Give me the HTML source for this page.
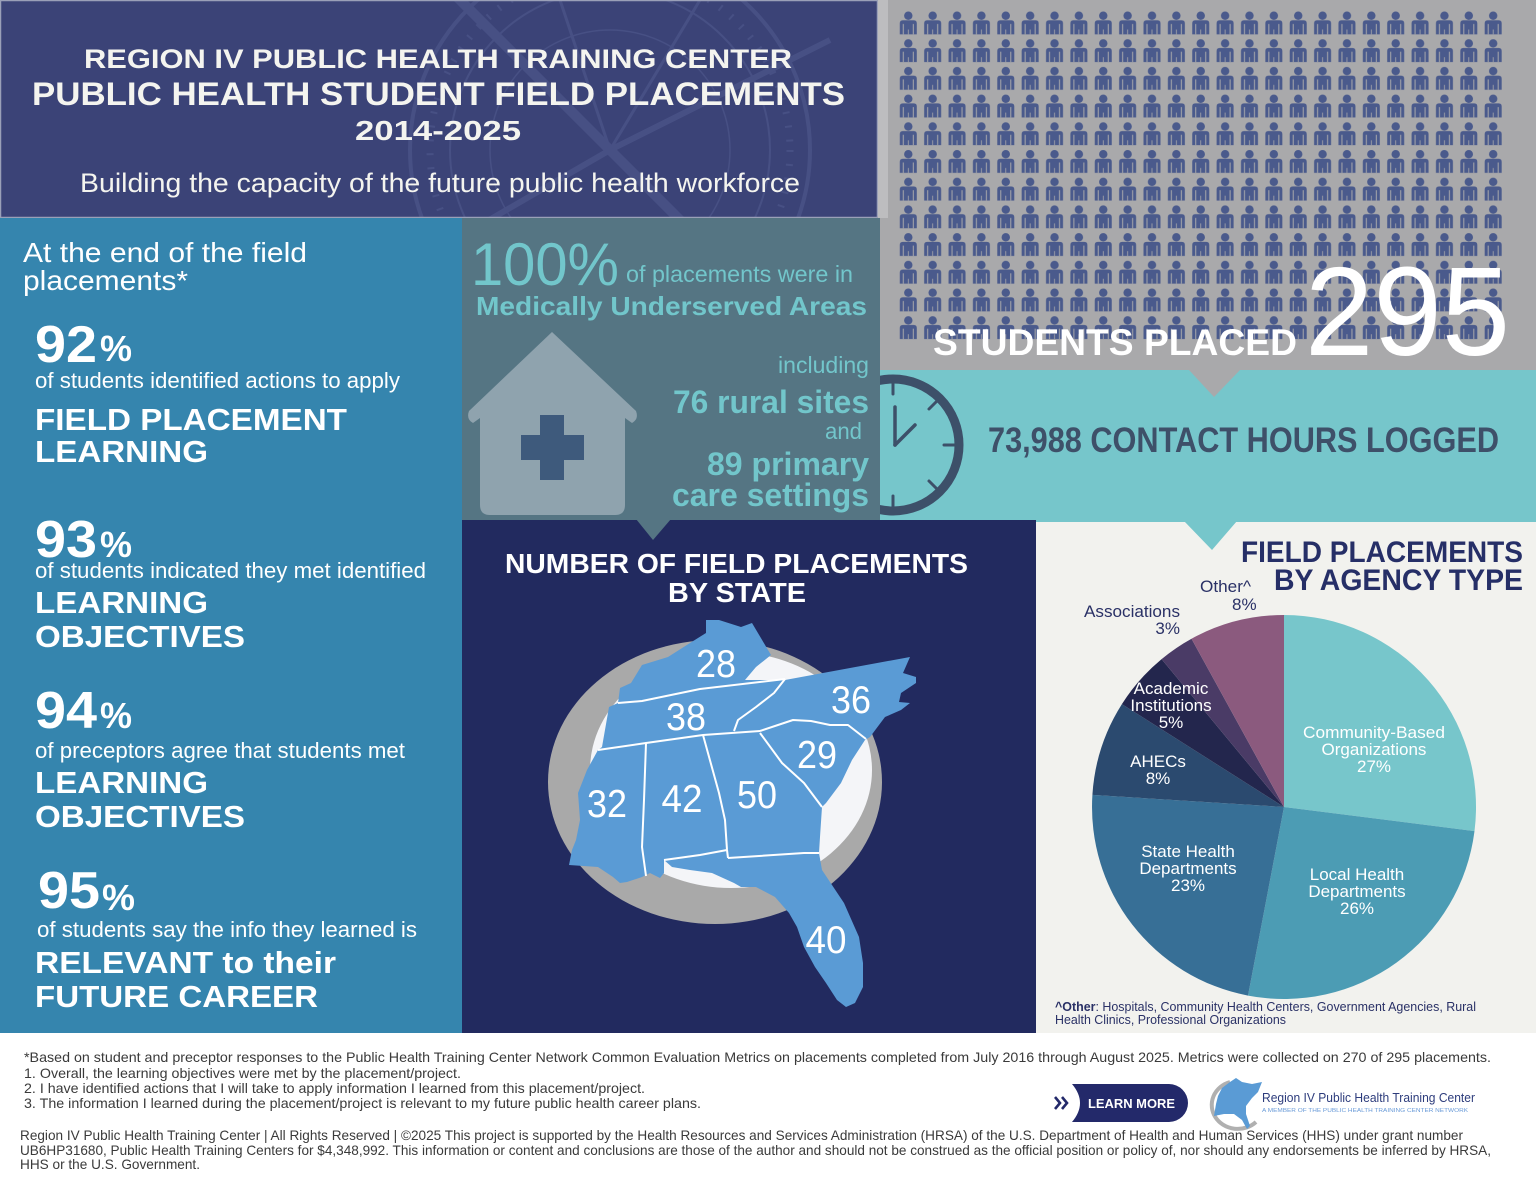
<!DOCTYPE html>
<html><head><meta charset="utf-8"><style>
html,body{margin:0;padding:0;background:#fff;}
svg{display:block;}
text{font-family:"Liberation Sans",Arial,sans-serif;}
</style></head><body>
<svg width="1536" height="1187" viewBox="0 0 1536 1187" xmlns="http://www.w3.org/2000/svg">
<defs>
<pattern id="ppl" patternUnits="userSpaceOnUse" x="896.1" y="10" width="24.37" height="27.7">
<circle cx="12.2" cy="5.7" r="4.2" fill="#4a5a8c"/>
<path d="M3.7,24.3 L3.7,13.3 Q3.7,10.3 6.7,10.3 L17.7,10.3 Q20.7,10.3 20.7,13.3 L20.7,24.3 Z" fill="#4a5a8c"/>
<line x1="7.2" y1="14" x2="7.2" y2="24.3" stroke="#a9a9ab" stroke-width="1"/>
<line x1="17.2" y1="14" x2="17.2" y2="24.3" stroke="#a9a9ab" stroke-width="1"/>
<line x1="12.2" y1="19.5" x2="12.2" y2="24.3" stroke="#a9a9ab" stroke-width="0.8"/>
</pattern>
<clipPath id="hdr"><rect x="0" y="0" width="878" height="218"/></clipPath>
</defs>

<!-- background -->
<rect x="0" y="0" width="1536" height="1187" fill="#ffffff"/>

<!-- HEADER -->
<rect x="0" y="0" width="878" height="218" fill="#3b4377"/>
<g clip-path="url(#hdr)" fill="none" stroke="#525b90" opacity="0.55">
<circle cx="610" cy="150" r="200" stroke-width="4"/>
<circle cx="610" cy="150" r="180" stroke-width="7" stroke-dasharray="2 12"/>
<circle cx="610" cy="150" r="160" stroke-width="2"/>
<circle cx="610" cy="150" r="120" stroke-width="1.5"/>
<path d="M450,-10 L610,150 L780,320" stroke-width="10"/>
<path d="M830,40 L610,150 L420,260" stroke-width="6"/>
<path d="M610,150 L560,0 M610,150 L700,0" stroke-width="3"/>
</g>
<rect x="0.5" y="0.5" width="877" height="217" fill="none" stroke="#9aa0b8" stroke-width="1.5"/>
<text x="84" y="68" font-size="27" font-weight="bold" fill="#f4f4ef" textLength="708" lengthAdjust="spacingAndGlyphs">REGION IV PUBLIC HEALTH TRAINING CENTER</text>
<text x="32" y="105" font-size="32" font-weight="bold" fill="#f4f4ef" textLength="813" lengthAdjust="spacingAndGlyphs">PUBLIC HEALTH STUDENT FIELD PLACEMENTS</text>
<text x="355" y="140" font-size="28" font-weight="bold" fill="#f4f4ef" textLength="166" lengthAdjust="spacingAndGlyphs">2014-2025</text>
<text x="80" y="192" font-size="27" fill="#f4f4ef" textLength="720" lengthAdjust="spacingAndGlyphs">Building the capacity of the future public health workforce</text>

<!-- PEOPLE PANEL -->
<rect x="878" y="0" width="658" height="372" fill="#a9a9ab"/>
<rect x="878" y="0" width="10" height="218" fill="#bdbdbf"/>
<rect x="896" y="10" width="609.3" height="332.4" fill="url(#ppl)"/>
<text x="933" y="355" font-size="37" font-weight="bold" fill="#ffffff" textLength="364" lengthAdjust="spacingAndGlyphs">STUDENTS PLACED</text>
<text x="1305" y="355" font-size="126" fill="#ffffff" textLength="205" lengthAdjust="spacingAndGlyphs">295</text>

<!-- TEAL BAND -->
<rect x="878" y="370" width="658" height="152" fill="#76c6cb"/>
<polygon points="1189,370 1240,370 1214,397" fill="#a9a9ab"/>
<!-- clock -->
<g stroke="#3d5069" fill="none" stroke-linecap="round">
<circle cx="893" cy="445" r="66" stroke-width="9"/>
<line x1="893" y1="383" x2="893" y2="394" stroke-width="3"/>
<line x1="893" y1="496" x2="893" y2="507" stroke-width="3"/>
<line x1="944" y1="445" x2="955" y2="445" stroke-width="3"/>
<line x1="929" y1="409" x2="937" y2="401" stroke-width="3"/>
<line x1="929" y1="481" x2="937" y2="489" stroke-width="3"/>
<line x1="895" y1="407" x2="895" y2="445" stroke-width="3.5"/>
<line x1="895" y1="445" x2="915" y2="425" stroke-width="3.5"/>
</g>
<text x="988" y="452" font-size="35" font-weight="bold" fill="#3e5069" textLength="511" lengthAdjust="spacingAndGlyphs">73,988 CONTACT HOURS LOGGED</text>

<!-- LEFT PANEL -->
<rect x="0" y="218" width="462" height="815" fill="#3585ae"/>
<g fill="#ffffff">
<text x="23" y="262" font-size="28" textLength="284" lengthAdjust="spacingAndGlyphs">At the end of the field</text>
<text x="23" y="290" font-size="28" textLength="165" lengthAdjust="spacingAndGlyphs">placements*</text>

<text x="35" y="362" font-size="52" font-weight="bold" textLength="62" lengthAdjust="spacingAndGlyphs">92</text>
<text x="100" y="361" font-size="36" font-weight="bold" textLength="32" lengthAdjust="spacingAndGlyphs">%</text>
<text x="35" y="388" font-size="22" textLength="365" lengthAdjust="spacingAndGlyphs">of students identified actions to apply</text>
<text x="35" y="430" font-size="31" font-weight="bold" textLength="312" lengthAdjust="spacingAndGlyphs">FIELD PLACEMENT</text>
<text x="35" y="462" font-size="31" font-weight="bold" textLength="173" lengthAdjust="spacingAndGlyphs">LEARNING</text>

<text x="35" y="557" font-size="52" font-weight="bold" textLength="62" lengthAdjust="spacingAndGlyphs">93</text>
<text x="100" y="557" font-size="36" font-weight="bold" textLength="32" lengthAdjust="spacingAndGlyphs">%</text>
<text x="35" y="578" font-size="22" textLength="391" lengthAdjust="spacingAndGlyphs">of students indicated they met identified</text>
<text x="35" y="613" font-size="31" font-weight="bold" textLength="173" lengthAdjust="spacingAndGlyphs">LEARNING</text>
<text x="35" y="647" font-size="31" font-weight="bold" textLength="210" lengthAdjust="spacingAndGlyphs">OBJECTIVES</text>

<text x="35" y="728" font-size="52" font-weight="bold" textLength="62" lengthAdjust="spacingAndGlyphs">94</text>
<text x="100" y="728" font-size="36" font-weight="bold" textLength="32" lengthAdjust="spacingAndGlyphs">%</text>
<text x="35" y="758" font-size="22" textLength="370" lengthAdjust="spacingAndGlyphs">of preceptors agree that students met</text>
<text x="35" y="793" font-size="31" font-weight="bold" textLength="173" lengthAdjust="spacingAndGlyphs">LEARNING</text>
<text x="35" y="827" font-size="31" font-weight="bold" textLength="210" lengthAdjust="spacingAndGlyphs">OBJECTIVES</text>

<text x="38" y="908" font-size="52" font-weight="bold" textLength="62" lengthAdjust="spacingAndGlyphs">95</text>
<text x="102" y="910" font-size="36" font-weight="bold" textLength="33" lengthAdjust="spacingAndGlyphs">%</text>
<text x="37" y="937" font-size="22" textLength="380" lengthAdjust="spacingAndGlyphs">of students say the info they learned is</text>
<text x="35" y="973" font-size="31" font-weight="bold" textLength="301" lengthAdjust="spacingAndGlyphs">RELEVANT to their</text>
<text x="35" y="1007" font-size="31" font-weight="bold" textLength="283" lengthAdjust="spacingAndGlyphs">FUTURE CAREER</text>
</g>

<!-- MAP PANEL -->
<rect x="462" y="520" width="574" height="513" fill="#222a5f"/>
<text x="505" y="573" font-size="28" font-weight="bold" fill="#ffffff" textLength="463" lengthAdjust="spacingAndGlyphs">NUMBER OF FIELD PLACEMENTS</text>
<text x="668" y="602" font-size="28" font-weight="bold" fill="#ffffff" textLength="138" lengthAdjust="spacingAndGlyphs">BY STATE</text>
<ellipse cx="715" cy="782" rx="167" ry="142" fill="#a9a9a9"/>
<ellipse cx="731" cy="770" rx="141" ry="118" fill="#f4f5f8"/>
<polygon fill="#5a9bd5" points="618,703 620,688 631,683 642,665 668,657 690,643 706,633 706,620 719,620 741,627 752,623 771,655 756,667 745,680 785,680 910,657 903,673 916,677 916,683 901,693 899,702 910,703 901,710 885,717 870,737 865,740 852,760 841,783 826,803 822,807 820,837 819,853 822,870 844,903 859,937 863,963 863,987 855,1003 846,1007 837,1000 826,983 815,967 804,947 797,927 789,913 775,897 756,887 741,887 734,883 712,873 690,870 672,867 664,860 664,873 660,878 650,873 642,877 627,882 620,883 613,877 598,867 569,865 572,850 576,840 580,820 578,793 587,770 598,750 602,747 609,707"/>
<g fill="none" stroke="#ffffff" stroke-width="2" stroke-linejoin="round">
<polyline points="618,703 642,701 700,689 785,679"/>
<polyline points="785,679 774,693 756,707 738,720 734,731"/>
<polyline points="598,750 646,743 703,735 760,731"/>
<polyline points="760,731 793,720 811,721 830,725 848,725 866,739"/>
<polyline points="760,733 782,763 804,783 822,807"/>
<polyline points="646,743 644,800 642,847 646,876"/>
<polyline points="703,735 719,793 725,820 727,850 728,858"/>
<polyline points="664,860 700,855 727,850"/>
<polyline points="728,858 804,853 819,853"/>
</g>
<g fill="#ffffff" font-size="39" text-anchor="middle">
<text x="716" y="677" textLength="40" lengthAdjust="spacingAndGlyphs">28</text>
<text x="686" y="730" textLength="40" lengthAdjust="spacingAndGlyphs">38</text>
<text x="851" y="713" textLength="40" lengthAdjust="spacingAndGlyphs">36</text>
<text x="817" y="768" textLength="40" lengthAdjust="spacingAndGlyphs">29</text>
<text x="607" y="817" textLength="40" lengthAdjust="spacingAndGlyphs">32</text>
<text x="682" y="812" textLength="41" lengthAdjust="spacingAndGlyphs">42</text>
<text x="757" y="808" textLength="40" lengthAdjust="spacingAndGlyphs">50</text>
<text x="826" y="953" textLength="41" lengthAdjust="spacingAndGlyphs">40</text>
</g>

<!-- MIDDLE PANEL -->
<rect x="462" y="218" width="418" height="302" fill="#557583"/>
<polygon points="636,519 671,519 653,540" fill="#557583"/>
<text x="471" y="285" font-size="60" fill="#72c6cb" textLength="148" lengthAdjust="spacingAndGlyphs">100%</text>
<text x="626" y="282" font-size="23" fill="#72c6cb" textLength="227" lengthAdjust="spacingAndGlyphs">of placements were in</text>
<text x="476" y="315" font-size="26" font-weight="bold" fill="#72c6cb" textLength="391" lengthAdjust="spacingAndGlyphs">Medically Underserved Areas</text>
<path d="M552,332 L636,411 Q639,419 632,423 L625,418 L625,505 Q625,515 615,515 L490,515 Q480,515 480,505 L480,418 L473,423 Q466,419 469,411 Z" fill="#8fa3ae"/>
<rect x="540" y="415" width="24" height="65" fill="#3e5a7c"/>
<rect x="521" y="435" width="63" height="25" fill="#3e5a7c"/>
<g fill="#72c6cb" text-anchor="end">
<text x="869" y="373" font-size="23" textLength="91" lengthAdjust="spacingAndGlyphs">including</text>
<text x="869" y="413" font-size="32" font-weight="bold" textLength="196" lengthAdjust="spacingAndGlyphs">76 rural sites</text>
<text x="862" y="439" font-size="23" textLength="37" lengthAdjust="spacingAndGlyphs">and</text>
<text x="869" y="475" font-size="32" font-weight="bold" textLength="162" lengthAdjust="spacingAndGlyphs">89 primary</text>
<text x="869" y="506" font-size="32" font-weight="bold" textLength="197" lengthAdjust="spacingAndGlyphs">care settings</text>
</g>

<!-- PIE PANEL -->
<rect x="1036" y="522" width="500" height="511" fill="#f2f2ee"/>
<polygon points="1184,521 1237,521 1212,550" fill="#76c6cb"/>
<text x="1523" y="562" font-size="30" font-weight="bold" fill="#262f67" text-anchor="end" textLength="282" lengthAdjust="spacingAndGlyphs">FIELD PLACEMENTS</text>
<text x="1523" y="590" font-size="30" font-weight="bold" fill="#262f67" text-anchor="end" textLength="249" lengthAdjust="spacingAndGlyphs">BY AGENCY TYPE</text>
<path d="M1284,807 L1284,615 A192,192 0 0,1 1474.5,831.1 Z" fill="#77c6cb"/>
<path d="M1284,807 L1474.5,831.1 A192,192 0 0,1 1248,995.6 Z" fill="#4c9cb4"/>
<path d="M1284,807 L1248,995.6 A192,192 0 0,1 1092.4,794.9 Z" fill="#376f96"/>
<path d="M1284,807 L1092.4,794.9 A192,192 0 0,1 1121.9,704.1 Z" fill="#2b4a6f"/>
<path d="M1284,807 L1121.9,704.1 A192,192 0 0,1 1161.6,659.1 Z" fill="#23264d"/>
<path d="M1284,807 L1161.6,659.1 A192,192 0 0,1 1191.5,638.7 Z" fill="#4a3b66"/>
<path d="M1284,807 L1191.5,638.7 A192,192 0 0,1 1284,615 Z" fill="#8b5a7e"/>
<g fill="#ffffff" font-size="17" text-anchor="middle">
<text x="1374" y="738" textLength="142" lengthAdjust="spacingAndGlyphs">Community-Based</text>
<text x="1374" y="755">Organizations</text>
<text x="1374" y="772">27%</text>
<text x="1357" y="880">Local Health</text>
<text x="1357" y="897">Departments</text>
<text x="1357" y="914">26%</text>
<text x="1188" y="857">State Health</text>
<text x="1188" y="874">Departments</text>
<text x="1188" y="891">23%</text>
<text x="1158" y="767">AHECs</text>
<text x="1158" y="784">8%</text>
<text x="1171" y="694">Academic</text>
<text x="1171" y="711">Institutions</text>
<text x="1171" y="728">5%</text>
</g>
<g fill="#2a3166" font-size="17">
<text x="1180" y="617" text-anchor="end" textLength="96" lengthAdjust="spacingAndGlyphs">Associations</text>
<text x="1180" y="634" text-anchor="end">3%</text>
<text x="1200" y="592" textLength="51" lengthAdjust="spacingAndGlyphs">Other^</text>
<text x="1232" y="610">8%</text>
</g>
<text x="1055" y="1011" font-size="12.5" fill="#2a3166" textLength="421" lengthAdjust="spacingAndGlyphs"><tspan font-weight="bold">^Other</tspan>: Hospitals, Community Health Centers, Government Agencies, Rural</text>
<text x="1055" y="1024" font-size="12.5" fill="#2a3166" textLength="231" lengthAdjust="spacingAndGlyphs">Health Clinics, Professional Organizations</text>

<!-- FOOTER -->
<g fill="#3a3a3a" font-size="14">
<text x="24" y="1062" textLength="1467" lengthAdjust="spacingAndGlyphs">*Based on student and preceptor responses to the Public Health Training Center Network Common Evaluation Metrics on placements completed from July 2016 through August 2025. Metrics were collected on 270 of 295 placements.</text>
<text x="24" y="1078" textLength="437" lengthAdjust="spacingAndGlyphs">1. Overall, the learning objectives were met by the placement/project.</text>
<text x="24" y="1093" textLength="621" lengthAdjust="spacingAndGlyphs">2. I have identified actions that I will take to apply information I learned from this placement/project.</text>
<text x="24" y="1108" textLength="677" lengthAdjust="spacingAndGlyphs">3. The information I learned during the placement/project is relevant to my future public health career plans.</text>
<text x="20" y="1140" textLength="1443" lengthAdjust="spacingAndGlyphs">Region IV Public Health Training Center | All Rights Reserved | ©2025 This project is supported by the Health Resources and Services Administration (HRSA) of the U.S. Department of Health and Human Services (HHS) under grant number</text>
<text x="20" y="1155" textLength="1471" lengthAdjust="spacingAndGlyphs">UB6HP31680, Public Health Training Centers for $4,348,992. This information or content and conclusions are those of the author and should not be construed as the official position or policy of, nor should any endorsements be inferred by HRSA,</text>
<text x="20" y="1169" textLength="180" lengthAdjust="spacingAndGlyphs">HHS or the U.S. Government.</text>
</g>

<!-- Learn more button -->
<path d="M1072,1084 L1169,1084 A19,19 0 0,1 1169,1122 L1072,1122 Q1088,1103 1072,1084 Z" fill="#23296a"/>
<path d="M1055,1097 L1060,1103 L1055,1109 M1062,1097 L1067,1103 L1062,1109" fill="none" stroke="#23296a" stroke-width="2.6"/>
<text x="1088" y="1108" font-size="12.5" font-weight="bold" fill="#ffffff" textLength="87" lengthAdjust="spacingAndGlyphs">LEARN MORE</text>

<!-- logo -->
<path d="M1230,1082 A26,24 0 1,0 1256,1122" fill="none" stroke="#b0b0b0" stroke-width="4"/>
<polygon fill="#5a9bd5" points="1222,1088 1230,1082 1236,1078 1242,1082 1252,1084 1262,1082 1258,1092 1252,1098 1246,1106 1246,1114 1250,1126 1247,1129 1242,1120 1234,1114 1224,1114 1214,1116 1216,1104 1218,1096"/>
<text x="1262" y="1102" font-size="12.5" fill="#2d3c7c" textLength="213" lengthAdjust="spacingAndGlyphs">Region IV Public Health Training Center</text>
<text x="1262" y="1112" font-size="5.5" fill="#6a9bd8" textLength="206" lengthAdjust="spacingAndGlyphs">A MEMBER OF THE PUBLIC HEALTH TRAINING CENTER NETWORK</text>
</svg>
</body></html>
